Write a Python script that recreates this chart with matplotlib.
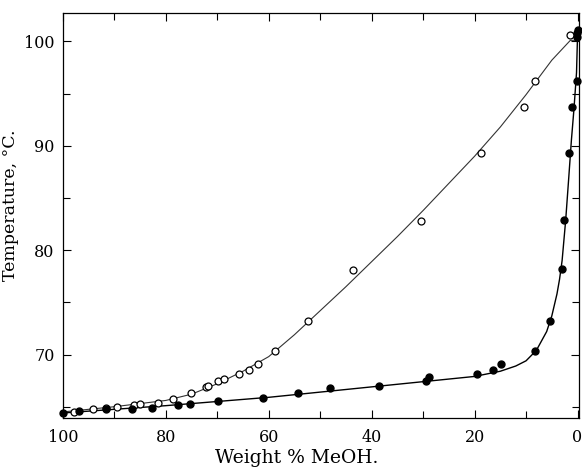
import matplotlib
matplotlib.use("Agg")
import matplotlib.pyplot as plt
from matplotlib.ticker import MultipleLocator

# Open circles (vapour / dew points)
open_x = [97.9, 94.2, 91.6, 89.5, 86.2, 85.0, 81.5, 78.6, 75.1, 72.2, 71.8, 69.8,
          68.7, 65.8, 63.8, 62.1, 58.8, 52.3, 43.6, 30.4, 18.7, 10.5, 8.2, 1.4]
open_y = [64.5, 64.8, 64.9, 65.0, 65.2, 65.3, 65.4, 65.7, 66.3, 66.9, 67.0, 67.5,
          67.7, 68.1, 68.5, 69.1, 70.3, 73.2, 78.1, 82.8, 89.3, 93.7, 96.2, 100.6]

# Filled circles (liquid / bubble points)
fill_x = [100.0, 96.9, 91.6, 86.6, 82.7, 77.6, 75.3, 69.8, 61.1, 54.3, 48.1, 38.5,
          29.4, 28.8, 19.5, 16.5, 14.8, 8.2, 5.4, 3.1, 2.7, 1.6, 1.0, 0.2, 0.1, 0.2, 0.0]
fill_y = [64.4, 64.6, 64.8, 64.8, 64.9, 65.2, 65.3, 65.5, 65.8, 66.3, 66.8, 67.0,
          67.5, 67.8, 68.1, 68.5, 69.1, 70.3, 73.2, 78.2, 82.9, 89.3, 93.7, 96.2,
          100.4, 100.8, 101.1]

# Drawn curves
open_curve_x = [100, 90, 80, 75, 70, 65, 60, 55, 50, 45, 40, 35, 30, 25, 20, 15,
                10, 5, 1.4, 0]
open_curve_y = [64.5, 65.0, 65.6, 66.2, 67.2, 68.4, 69.8, 71.9, 74.2, 76.5, 78.9,
                81.3, 83.8, 86.4, 89.0, 91.8, 94.9, 98.2, 100.1, 100.1]

fill_curve_x = [100, 90, 80, 70, 60, 50, 40, 30, 20, 15, 12, 10, 8, 6, 5, 4, 3.5,
                3, 2.3, 1.7, 1.2, 0.7, 0.2, 0]
fill_curve_y = [64.4, 64.75, 65.1, 65.5, 65.9, 66.4, 66.9, 67.4, 67.9, 68.4, 68.9,
                69.4, 70.4, 72.2, 73.7, 75.8, 77.2, 79.0, 82.9, 87.0, 90.5, 93.5,
                97.0, 100.6]

x_ticks = [100, 80, 60, 40, 20, 0]
y_ticks = [70, 80, 90, 100]

plt.rcParams['font.family'] = ['DejaVu Serif']

fig = plt.figure(figsize=(5.82, 4.72), dpi=100)
ax = fig.add_axes([0.108, 0.114, 0.887, 0.858])

ax.plot(open_curve_x, open_curve_y, color='#333333', lw=0.8)
ax.plot(fill_curve_x, fill_curve_y, color='black', lw=1.0)
ax.plot(open_x, open_y, 'o', mfc='white', mec='black', ms=5, mew=0.9, clip_on=False)
ax.plot(fill_x, fill_y, 'o', mfc='black', mec='black', ms=5, clip_on=False)

ax.set_xlim(100, -0.3)
ax.set_ylim(63.9, 102.7)
ax.set_xticks(x_ticks)
ax.set_xticklabels([str(v) for v in x_ticks])
ax.set_yticks(y_ticks)
ax.set_yticklabels([str(v) for v in y_ticks])
ax.xaxis.set_minor_locator(MultipleLocator(10))
ax.yaxis.set_minor_locator(MultipleLocator(5))
ax.tick_params(which='both', direction='in', top=True, right=True,
               labelsize=11.5, width=0.8)
ax.tick_params(axis='x', pad=8)
ax.tick_params(axis='y', pad=6)
ax.tick_params(which='major', length=6)
ax.tick_params(which='minor', length=5)
for s in ax.spines.values():
    s.set_linewidth(0.9)

ax.set_xlabel('Weight % MeOH.', fontsize=13.5)
ax.xaxis.set_label_coords(0.453, -0.077)
ax.set_ylabel('Temperature, °C.', fontsize=12.5)
ax.yaxis.set_label_coords(-0.085, 0.526)

fig.savefig('out.png', dpi=100)
